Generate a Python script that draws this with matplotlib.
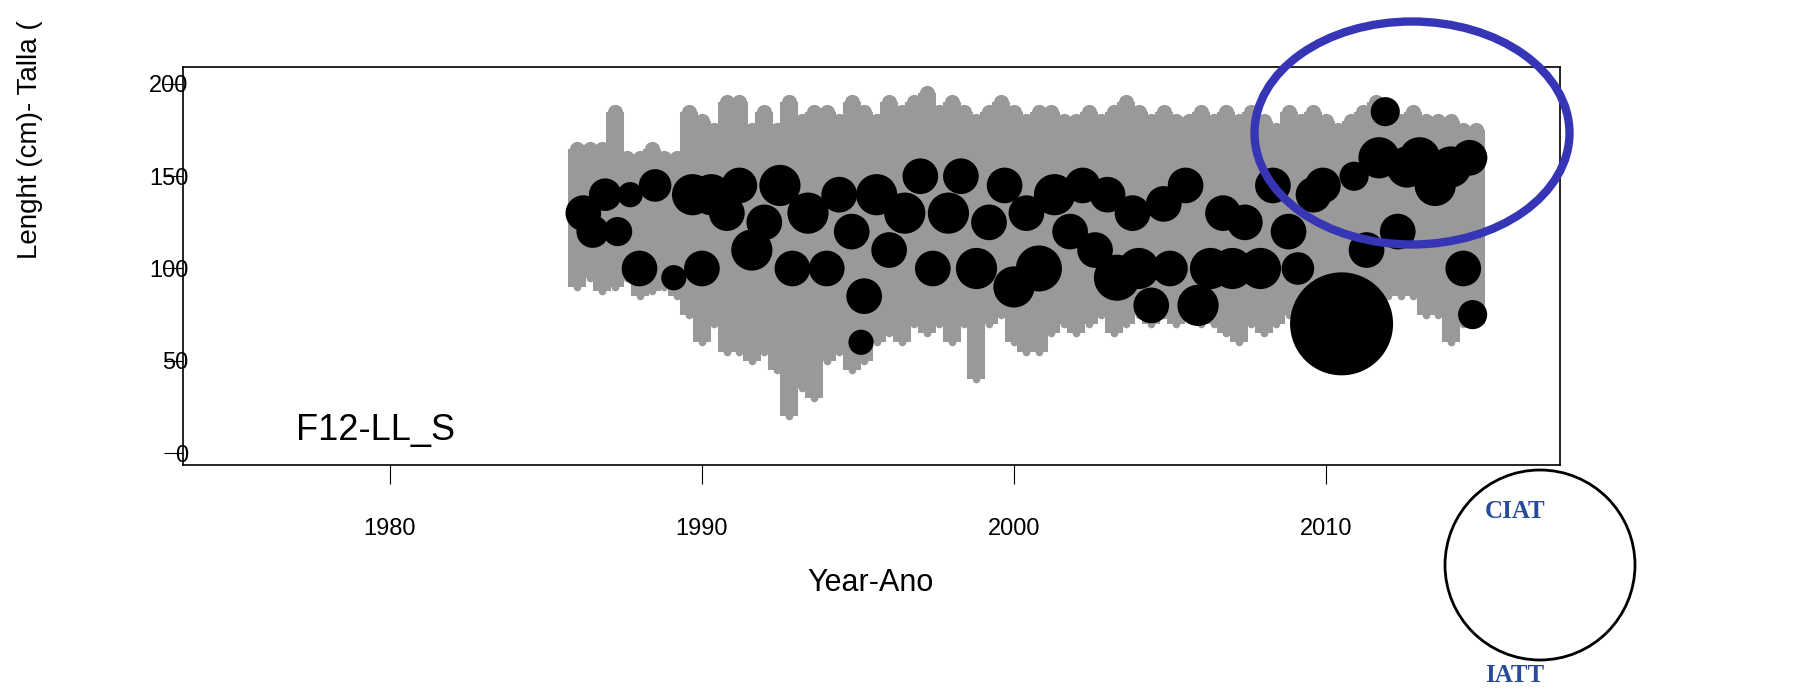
import matplotlib
matplotlib.use("Agg")
import matplotlib.pyplot as plt
from matplotlib.patches import Ellipse, Circle

plt.rcParams['font.family'] = ['Liberation Sans', 'DejaVu Sans']

# gray ranges per sample time
gray_t = [1986.0,1986.4,1986.8,1987.2,1987.6,1988.0,1988.4,1988.8,1989.2,1989.6,1990.0,1990.4,1990.8,1991.2,1991.6,1992.0,1992.4,1992.8,1993.2,1993.6,1994.0,1994.4,1994.8,1995.2,1995.6,1996.0,1996.4,1996.8,1997.2,1997.6,1998.0,1998.4,1998.8,1999.2,1999.6,2000.0,2000.4,2000.8,2001.2,2001.6,2002.0,2002.4,2002.8,2003.2,2003.6,2004.0,2004.4,2004.8,2005.2,2005.6,2006.0,2006.4,2006.8,2007.2,2007.6,2008.0,2008.4,2008.8,2009.2,2009.6,2010.0,2010.4,2010.8,2011.2,2011.6,2012.0,2012.4,2012.8,2013.2,2013.6,2014.0,2014.4,2014.8]
gray_lo = [90,95,88,90,95,85,88,90,85,75,60,70,55,55,50,55,45,20,35,30,50,55,45,50,60,65,60,70,65,70,60,70,40,70,75,60,55,55,65,70,65,70,75,65,70,75,70,75,70,75,70,70,65,60,70,65,70,75,70,70,65,60,70,75,80,85,85,85,75,75,60,70,70]
gray_hi = [165,165,165,185,160,160,165,160,160,185,180,175,190,190,175,185,175,190,180,185,185,180,190,185,180,190,185,190,195,185,190,185,180,185,190,185,180,185,185,180,180,185,180,185,190,185,180,185,180,180,185,180,185,180,185,180,175,185,180,185,180,175,180,185,190,185,180,185,180,180,180,175,175]

# black modal bubbles
black_t = [1986.2,1986.5,1986.9,1987.3,1987.7,1988.0,1988.5,1989.1,1989.7,1990.0,1990.3,1990.8,1991.2,1991.6,1992.0,1992.5,1992.9,1993.4,1994.0,1994.4,1994.8,1995.2,1995.1,1995.6,1996.0,1996.5,1997.0,1997.4,1997.9,1998.3,1998.8,1999.2,1999.7,2000.0,2000.4,2000.8,2001.3,2001.8,2002.2,2002.6,2003.0,2003.3,2003.8,2004.0,2004.4,2004.8,2005.0,2005.5,2005.9,2006.3,2006.7,2007.0,2007.4,2007.9,2008.3,2008.8,2009.1,2009.6,2009.9,2010.5,2010.9,2011.3,2011.7,2011.9,2012.3,2012.6,2013.0,2013.5,2014.0,2014.4,2014.6,2014.7]
black_len = [130,120,140,120,140,100,145,95,140,100,140,130,145,110,125,145,100,130,100,140,120,85,60,140,110,130,150,100,130,150,100,125,145,90,130,100,140,120,145,110,140,95,130,100,80,135,100,145,80,100,130,100,125,100,145,120,100,140,145,70,150,110,160,185,120,155,160,145,155,100,160,75]
black_size = [300,250,250,200,150,300,250,150,400,300,400,300,300,400,300,400,300,400,300,300,300,300,150,400,300,400,300,300,400,300,400,300,300,400,300,500,400,300,300,300,300,500,300,400,300,300,300,300,400,400,300,400,300,400,300,300,250,300,300,2500,200,300,400,200,300,400,400,400,400,300,300,200]

xticks = [1980, 1990, 2000, 2010]
yticks = [0, 50, 100, 150, 200]

W, H = 1805, 693
fig = plt.figure(figsize=(W/100, H/100), dpi=100)
ax = fig.add_axes([183/W, 1-465/H, (1560-183)/W, (465-67)/H])
ax.set_xlim(1973.37, 2017.5)
ax.set_ylim(-6.5, 209.2)

ax.vlines(gray_t, gray_lo, gray_hi, colors="#999999", linewidth=13, zorder=1)
ax.scatter(gray_t, gray_hi, s=120, color="#999999", zorder=1, linewidths=0)
ax.scatter(gray_t, gray_lo, s=30, color="#999999", zorder=1, linewidths=0)
ax.scatter(black_t, black_len, s=[v * 2.2 for v in black_size], color="black", zorder=2, linewidths=0)

ax.set_xticks(xticks)
ax.set_xticklabels([str(v) for v in xticks], fontsize=17)
ax.set_yticks(yticks)
ax.set_yticklabels([str(v) for v in yticks], fontsize=17)
ax.tick_params(axis="x", length=14, pad=24, direction="out")
ax.tick_params(axis="y", length=14, pad=-18, direction="out")
for lab in ax.get_yticklabels():
    lab.set_horizontalalignment("right")
for s in ax.spines.values():
    s.set_linewidth(1.2)

ax.text(1977.0, 7, "F12-LL_S", fontsize=26)

fig.text(870/W, 1-583/H, "Year-Ano", fontsize=22, ha="center", va="center")
fig.text(30/W, 1-140/H, "Lenght (cm)- Talla (", fontsize=20, rotation=90, ha="center", va="center")

ell = Ellipse((1412, H-133), 315, 223, transform=None, fill=False,
              edgecolor="#3535b5", linewidth=6, zorder=5)
fig.add_artist(ell)
circ = Circle((1540, H-565), 95, transform=None, fill=True, facecolor="white",
              edgecolor="black", linewidth=2, zorder=5)
fig.add_artist(circ)
fig.text(1515/W, 1-512/H, "CIAT", fontsize=18, color="#2a4a9a", fontweight="bold",
         family="Liberation Serif", ha="center", va="center", zorder=6)
fig.text(1515/W, 1-675/H, "IATT", fontsize=18, color="#2a4a9a", fontweight="bold",
         family="Liberation Serif", ha="center", va="center", zorder=6)

fig.savefig("out.png", dpi=100)
